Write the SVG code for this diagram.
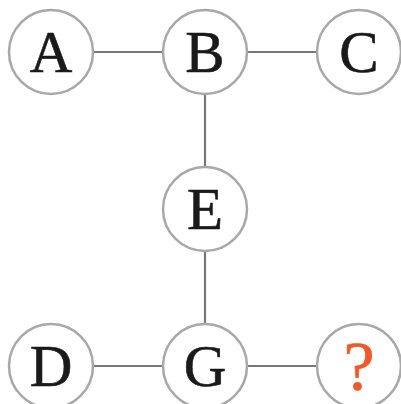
<svg xmlns="http://www.w3.org/2000/svg" width="401" height="404" viewBox="0 0 401 404">
<style>
.n circle{fill:#fff;stroke:#a8a8a8;stroke-width:2.5}
.n text{font-family:"Liberation Serif","Times New Roman",serif;font-size:59px;fill:#1a1a1a;stroke:#1a1a1a;stroke-width:0.6;text-anchor:middle}
.n text.q{fill:#f05a28;stroke:#f05a28;font-size:70px}
.e line{stroke:#777;stroke-width:2.2}
</style>
<rect width="401" height="404" fill="#fff"/>
<g id="edges" class="e">
<line x1="93" y1="52" x2="163" y2="52"/>
<line x1="247" y1="52" x2="317" y2="52"/>
<line x1="205" y1="94" x2="205" y2="167"/>
<line x1="205" y1="251" x2="205" y2="324"/>
<line x1="93" y1="366" x2="163" y2="366"/>
<line x1="247" y1="366" x2="317" y2="366"/>
</g>
<g id="A" class="n"><circle cx="51" cy="52" r="42"/><text x="51" y="72">A</text></g>
<g id="B" class="n"><circle cx="205" cy="52" r="42"/><text x="205" y="72">B</text></g>
<g id="C" class="n"><circle cx="359" cy="52" r="42"/><text x="359" y="72">C</text></g>
<g id="E" class="n"><circle cx="205" cy="209" r="42"/><text x="205" y="229">E</text></g>
<g id="D" class="n"><circle cx="51" cy="366" r="42"/><text x="51" y="386">D</text></g>
<g id="G" class="n"><circle cx="205" cy="366" r="42"/><text x="205" y="386">G</text></g>
<g id="Q" class="n"><circle cx="359" cy="366" r="42"/><text class="q" x="359" y="390">?</text></g>
</svg>
